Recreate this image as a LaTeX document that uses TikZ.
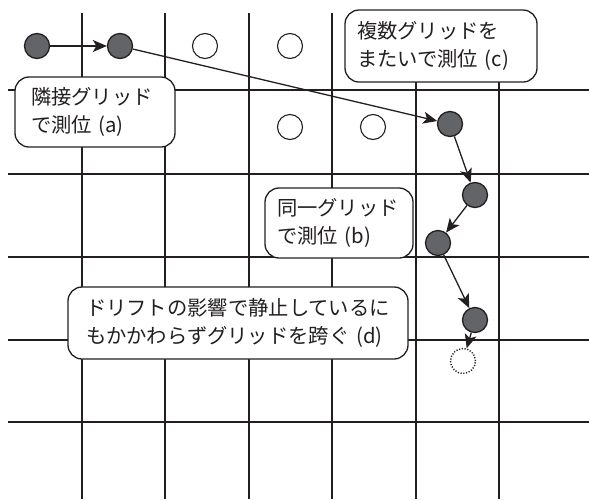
\documentclass[tikz,border=0pt]{standalone}
\usepackage{fontspec}
\setmainfont{Noto Sans CJK JP}
\usetikzlibrary{arrows.meta}
\definecolor{dotfill}{HTML}{636467}
\definecolor{inkc}{HTML}{231F20}
\tikzset{
  gridline/.style={draw=inkc, line width=1.4pt},
  fullpt/.style={circle, draw=inkc, line width=1.3pt, fill=dotfill, minimum size=25pt, inner sep=0pt},
  openpt/.style={circle, draw=inkc, line width=1.1pt, fill=white, minimum size=25pt, inner sep=0pt},
  ghostpt/.style={circle, draw=inkc, line width=1.4pt, dash pattern=on 1.2pt off 1.6pt, fill=white, minimum size=25pt, inner sep=0pt},
  move/.style={draw=inkc, line width=1.3pt, -{Stealth[length=14pt, width=12pt, inset=3.5pt]}},
  callout/.style={draw=inkc, line width=1.3pt, fill=white, rounded corners=14pt, align=left, inner ysep=0pt, text=inkc,
    font=\fontsize{20.3}{28}\selectfont}
}
\begin{document}
\begin{tikzpicture}[x=1pt, y=-1pt]
\useasboundingbox (0,0) rectangle (589,499);
% grid
\foreach \gx in {82,165,249,332,416,499} \draw[gridline] (\gx,13) -- (\gx,499);
\foreach \gy in {90,174,257,340,422} \draw[gridline] (8,\gy) -- (589,\gy);
% callouts
\node[callout, minimum width=160pt, minimum height=70pt, inner xsep=16pt, text width=128pt] (ca) at (95,112) {隣接グリッド\\で測位 (a)};
\node[callout, minimum width=192pt, minimum height=72pt, inner xsep=12pt, text width=168pt] (cc) at (441,46) {複数グリッドを\\またいで測位 (c)};
\node[callout, minimum width=148pt, minimum height=70pt, inner xsep=12pt, text width=124pt] (cb) at (339,223) {同一グリッド\\で測位 (b)};
\node[callout, minimum width=340pt, minimum height=72pt, inner xsep=18pt, text width=304pt] (cd) at (238,323) {ドリフトの影響で静止しているに\\もかかわらずグリッドを跨ぐ (d)};
% open points
\node[openpt] (o1) at (205,46) {};
\node[openpt] (o2) at (290,46) {};
\node[openpt] (o3) at (290,127) {};
\node[openpt] (o4) at (373,127) {};
% measured points
\node[fullpt] (p1) at (37,46) {};
\node[fullpt] (p2) at (120,46) {};
\node[fullpt] (p3) at (450,124) {};
\node[fullpt] (p4) at (475,195) {};
\node[fullpt] (p5) at (438,243) {};
\node[fullpt] (p6) at (475,320) {};
\node[ghostpt] (p7) at (463,361) {};
% moves
\draw[move] (p1) -- (p2);
\draw[move] (p2) -- (p3);
\draw[move] (p3) -- (p4);
\draw[move] (p4) -- (p5);
\draw[move] (p5) -- (p6);
\draw[move] (p6) -- (p7);
\end{tikzpicture}
\end{document}
